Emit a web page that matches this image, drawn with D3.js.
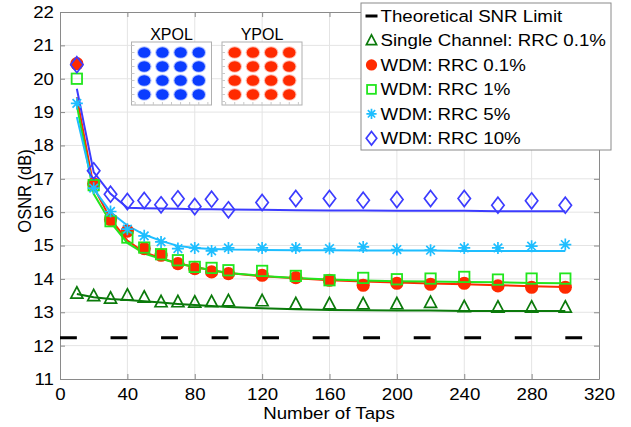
<!DOCTYPE html>
<html>
<head>
<meta charset="utf-8">
<script src="https://cdn.jsdelivr.net/npm/d3@7"></script>
<style>
body { margin:0; background:#fff; }
svg { display:block; font-family:"Liberation Sans", Arial, sans-serif; }
</style>
</head>
<body>
<script>
// number of equalizer taps (x values)
var taps = [10,20,30,40,50,60,70,80,90,100,120,140,160,180,200,220,240,260,280,300];

// measured OSNR (markers)
var single  = [13.57,13.49,13.42,13.51,13.45,13.31,13.31,13.30,13.31,13.34,13.34,13.25,13.25,13.25,13.25,13.29,13.16,13.15,13.15,13.15];
var rrc01   = [20.45,16.85,15.78,15.43,14.91,14.71,14.46,14.31,14.21,14.16,14.11,14.04,13.96,13.81,13.87,13.84,13.87,13.79,13.75,13.75];
var rrc1    = [20.00,16.81,15.73,15.24,14.94,14.74,14.56,14.36,14.33,14.26,14.24,14.09,13.96,14.03,13.99,14.01,14.06,13.98,14.01,14.01];
var rrc5    = [19.26,16.72,16.02,15.49,15.29,15.11,14.91,14.93,14.84,14.93,14.93,14.93,14.91,14.96,14.88,14.86,14.93,14.93,14.98,15.03];
var rrc10   = [20.42,17.24,16.54,16.32,16.35,16.22,16.40,16.17,16.39,16.07,16.29,16.41,16.41,16.36,16.38,16.41,16.41,16.21,16.34,16.21];

// fitted curves (lines)
var singleFit = [13.55,13.45,13.40,13.37,13.33,13.29,13.25,13.22,13.19,13.16,13.12,13.09,13.07,13.06,13.05,13.05,13.04,13.04,13.04,13.04];
var rrc01Fit  = [19.45,16.75,15.80,15.15,14.80,14.62,14.47,14.36,14.26,14.18,14.08,14.02,13.96,13.92,13.89,13.86,13.84,13.81,13.78,13.76];
var rrc1Fit   = [19.20,16.55,15.70,15.08,14.76,14.60,14.46,14.36,14.26,14.18,14.09,14.03,13.98,13.95,13.93,13.92,13.91,13.90,13.88,13.87];
var rrc5Fit   = [18.85,16.70,16.00,15.60,15.33,15.14,14.99,14.93,14.90,14.88,14.87,14.86,14.86,14.85,14.85,14.85,14.84,14.84,14.84,14.84];
var rrc10Fit  = [19.70,17.20,16.55,16.13,16.12,16.11,16.10,16.09,16.09,16.08,16.07,16.06,16.05,16.05,16.04,16.04,16.04,16.03,16.03,16.03];

var theoryX = [0,320];
var theoryLimit = 12.24;

var xTicks = [0,40,80,120,160,200,240,280,320];
var yTicks = [11,12,13,14,15,16,17,18,19,20,21,22];
var legendLabels = ['Theoretical SNR Limit','Single Channel: RRC 0.1%','WDM: RRC 0.1%','WDM: RRC 1%','WDM: RRC 5%','WDM: RRC 10%'];
var qamLevels = [-3,-1,1,3];

var W = 631, H = 427,
    margins = {top:12, right:32, bottom:48, left:60},
    stretch = 1.1;   // the figure text is a bit wide

var svg = d3.select('body').append('svg')
  .attr('width', W)
  .attr('height', H);

var x = d3.scaleLinear().domain([0,320]).range([margins.left, W-margins.right]);
var y = d3.scaleLinear().domain([11,22]).range([H-margins.bottom, margins.top]);

// move x/y of a text into a transform so it can be widened around its anchor
function widen(sel) {
  sel.each(function() {
    var t = d3.select(this);
    var tx = +t.attr('x') || 0, ty = +t.attr('y') || 0;
    t.attr('x', 0).attr('y', 0)
      .attr('transform', 'translate(' + tx + ',' + ty + ') scale(' + stretch + ',1)');
  });
}

// grid
var grid = svg.append('g').attr('stroke', '#e4e4e4').attr('stroke-width', 1);
grid.selectAll('.gx').data(xTicks.slice(1,-1)).enter().append('line')
  .attr('x1', function(d){ return x(d); }).attr('x2', function(d){ return x(d); })
  .attr('y1', y(11)).attr('y2', y(22));
grid.selectAll('.gy').data(yTicks.slice(1,-1)).enter().append('line')
  .attr('y1', function(d){ return y(d); }).attr('y2', function(d){ return y(d); })
  .attr('x1', x(0)).attr('x2', x(320));

// axes
function styleAxis(g) {
  g.select('.domain').attr('stroke', '#8a8a8a');
  g.selectAll('.tick line').attr('stroke', '#8a8a8a');
  g.selectAll('.tick text').attr('fill', '#000').style('font-size', '17px')
    .style('font-family', '"Liberation Sans", Arial, sans-serif')
    .call(widen);
}
svg.append('g').attr('transform', 'translate(0,' + y(11) + ')')
  .call(d3.axisBottom(x).tickValues(xTicks).tickSize(-5).tickPadding(8.5).tickSizeOuter(0))
  .call(styleAxis);
svg.append('g').attr('transform', 'translate(0,' + y(22) + ')')
  .call(d3.axisTop(x).tickValues(xTicks).tickSize(-5).tickFormat('').tickSizeOuter(0))
  .call(styleAxis);
svg.append('g').attr('transform', 'translate(' + x(0) + ',0)')
  .call(d3.axisLeft(y).tickValues(yTicks).tickSize(-5).tickPadding(6).tickSizeOuter(0))
  .call(styleAxis);
svg.append('g').attr('transform', 'translate(' + x(320) + ',0)')
  .call(d3.axisRight(y).tickValues(yTicks).tickSize(-5).tickFormat('').tickSizeOuter(0))
  .call(styleAxis);

svg.append('text')
  .attr('x', 329).attr('y', 419)
  .attr('text-anchor', 'middle')
  .style('font-size', '17px')
  .text('Number of Taps')
  .call(widen);
svg.append('text')
  .attr('transform', 'translate(31,191) scale(' + stretch + ',1) rotate(-90)')
  .attr('text-anchor', 'middle')
  .style('font-size', '16.5px')
  .text('OSNR (dB)');

// constellation insets
function inset(cx, label, color) {
  var g = svg.append('g');
  var bx = d3.scaleLinear().domain([-4.4,4.4]).range([cx-40, cx+40]);
  var by = d3.scaleLinear().domain([-4.5,4.5]).range([105, 42]);
  g.append('rect').attr('x', cx-40).attr('y', 42).attr('width', 80).attr('height', 63)
    .attr('fill', '#fff').attr('stroke', '#b0b0b0');
  var tk = d3.range(-4,5,1);
  g.selectAll('.tb').data(tk).enter().append('line')
    .attr('x1', function(d){ return bx(d); }).attr('x2', function(d){ return bx(d); })
    .attr('y1', 105).attr('y2', 102).attr('stroke', '#c8c8c8');
  g.selectAll('.tl').data(tk).enter().append('line')
    .attr('y1', function(d){ return by(d); }).attr('y2', function(d){ return by(d); })
    .attr('x1', cx-40).attr('x2', cx-37).attr('stroke', '#c8c8c8');
  var pts = [];
  qamLevels.forEach(function(i){ qamLevels.forEach(function(q){ pts.push([i,q]); }); });
  g.selectAll('.halo').data(pts).enter().append('ellipse')
    .attr('cx', function(d){ return bx(d[0]); }).attr('cy', function(d){ return by(d[1]); })
    .attr('rx', 7.3).attr('ry', 6.2).attr('fill', color).attr('opacity', 0.3);
  g.selectAll('.blob').data(pts).enter().append('ellipse')
    .attr('cx', function(d){ return bx(d[0]); }).attr('cy', function(d){ return by(d[1]); })
    .attr('rx', 6.2).attr('ry', 5.3).attr('fill', color);
  g.append('text').attr('x', cx).attr('y', 40).attr('text-anchor', 'middle')
    .style('font-size', '16px').text(label);
}
inset(171.5, 'XPOL', '#0b3cff');
inset(262, 'YPOL', '#ff2a00');

// markers
function marker(g, type, color, s) {
  s = s || 1;
  if (type === 'tri') {
    g.append('path').attr('d', 'M0,' + (-6.5*s) + 'L' + (6*s) + ',' + (4.8*s) + 'L' + (-6*s) + ',' + (4.8*s) + 'Z')
      .attr('fill', 'none').attr('stroke', color).attr('stroke-width', 1.7);
  } else if (type === 'circle') {
    g.append('circle').attr('r', 6.6*s).attr('fill', color);
  } else if (type === 'square') {
    g.append('rect').attr('x', -5.2*s).attr('y', -5.2*s).attr('width', 10.4*s).attr('height', 10.4*s)
      .attr('fill', 'none').attr('stroke', color).attr('stroke-width', 1.8);
  } else if (type === 'star') {
    var r = 6*s, d = 4.3*s;
    g.append('path').attr('d', 'M0,' + (-r) + 'V' + r + 'M' + (-r) + ',0H' + r +
        'M' + (-d) + ',' + (-d) + 'L' + d + ',' + d + 'M' + (-d) + ',' + d + 'L' + d + ',' + (-d))
      .attr('stroke', color).attr('stroke-width', 1.7);
  } else if (type === 'diamond') {
    g.append('path').attr('d', 'M0,' + (-8*s) + 'L' + (6.2*s) + ',0L0,' + (8*s) + 'L' + (-6.2*s) + ',0Z')
      .attr('fill', 'none').attr('stroke', color).attr('stroke-width', 1.7);
  }
}

var series = [
  {vals: single, fit: singleFit, type: 'tri',     color: '#0b7a0b'},
  {vals: rrc01,  fit: rrc01Fit,  type: 'circle',  color: '#ff2a00'},
  {vals: rrc1,   fit: rrc1Fit,   type: 'square',  color: '#22e61e'},
  {vals: rrc5,   fit: rrc5Fit,   type: 'star',    color: '#1ebeff'},
  {vals: rrc10,  fit: rrc10Fit,  type: 'diamond', color: '#3c3cff'}
];

var line = d3.line()
  .x(function(d, i){ return x(taps[i]); })
  .y(function(d){ return y(d); });

// theoretical limit, dashed
svg.append('line')
  .attr('x1', x(theoryX[0])).attr('x2', x(theoryX[1]))
  .attr('y1', y(theoryLimit)).attr('y2', y(theoryLimit))
  .attr('stroke', '#000').attr('stroke-width', 3)
  .attr('stroke-dasharray', (x(10)-x(0)) + ',' + (x(30)-x(10)));

series.forEach(function(s) {
  svg.append('path').datum(s.fit)
    .attr('d', line)
    .attr('fill', 'none')
    .attr('stroke', s.color)
    .attr('stroke-width', 2);
});
series.forEach(function(s) {
  s.vals.forEach(function(v, i) {
    var g = svg.append('g').attr('transform', 'translate(' + x(taps[i]) + ',' + y(v) + ')');
    marker(g, s.type, s.color);
  });
});

// legend
var leg = svg.append('g');
leg.append('rect').attr('x', 361).attr('y', 3).attr('width', 250).attr('height', 147)
  .attr('fill', '#fff').attr('stroke', '#8a8a8a');
legendLabels.forEach(function(lbl, i) {
  var cy = 16 + i*24.46;
  var g = leg.append('g').attr('transform', 'translate(371.5,' + cy + ')');
  if (i === 0) {
    g.append('line').attr('x1', -6).attr('x2', 6).attr('stroke', '#000').attr('stroke-width', 3);
  } else {
    marker(g, series[i-1].type, series[i-1].color, 0.85);
  }
  leg.append('text').attr('x', 380.5).attr('y', cy + 6)
    .style('font-size', '17px')
    .text(lbl)
    .call(widen);
});
</script>
</body>
</html>
